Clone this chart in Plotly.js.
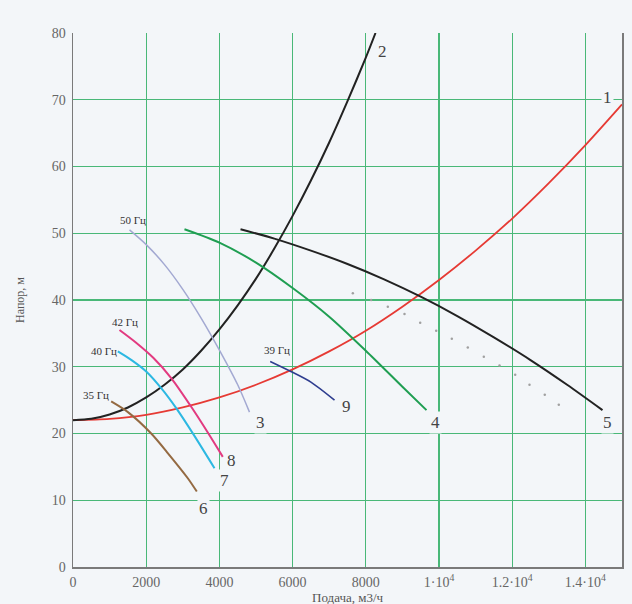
<!DOCTYPE html>
<html>
<head>
<meta charset="utf-8">
<script src="https://cdn.plot.ly/plotly-3.0.1.min.js"></script>
<style>html,body{margin:0;padding:0;background:#f3f6f9;}#chart{width:632px;height:604px;}</style>
</head>
<body>
<div id="chart"></div>
<script>
// Curve 1 (system characteristic, red)
const c1x = [0,1000,2000,3000,4000,5000,6000,7000,8000,9000,10000,11000,12000,13000,14000,15000];
const c1y = [22,22.2,22.8,23.9,25.4,27.3,29.6,32.3,35.4,39.0,43.0,47.4,52.2,57.5,63.2,69.3];
// Curve 2 (black, steep)
const c2x = [0,500,1000,1500,2000,2500,3000,3500,4000,4500,5000,5500,6000,6500,7000,7500,8000,8265];
const c2y = [22,22.2,22.85,23.9,25.4,27.3,29.6,32.4,35.6,39.2,43.2,47.7,52.6,57.9,63.6,69.8,76.3,80];
// Curve 3 (50 Hz, lavender)
const c3x = [1544,2000,2500,3000,3500,4000,4500,4822];
const c3y = [50.5,48.3,45.3,41.6,37.3,32.5,27.3,23.2];
// Curve 4 (green)
const c4x = [3046,4000,5000,6000,7000,8000,9000,9658];
const c4y = [50.6,48.6,45.6,41.8,37.5,32.4,27.0,23.5];
// Curve 5 (black, wide)
const c5x = [4577,5500,6500,7500,8500,9500,10500,11500,12500,13500,14467];
const c5y = [50.6,49.2,47.4,45.4,43.1,40.5,37.6,34.4,31.0,27.3,23.5];
// Dotted curve (gray)
const cdx = [7646,8146,8601,9057,9486,9923,10350,10787,11224,11653,12082,12473,12890,13273];
const cdy = [41.0,40.0,39.0,37.9,36.6,35.4,34.2,32.9,31.5,30.2,28.8,27.3,25.8,24.3];
// Curve 6 (35 Hz, brown)
const c6x = [1043,1500,2137,2600,3137,3383];
const c6y = [24.8,23.2,20.0,17.0,13.3,11.3];
// Curve 7 (40 Hz, cyan)
const c7x = [1224,1600,2000,2410,2820,3300,3866];
const c7y = [32.3,31.0,29.3,26.8,23.8,19.8,14.8];
// Curve 8 (42 Hz, pink)
const c8x = [1270,1700,2200,2683,3230,3700,4093];
const c8y = [35.5,33.7,31.3,28.3,24.0,20.0,16.5];
// Curve 9 (39 Hz, navy)
const c9x = [5388,5915,6500,7145];
const c9y = [30.8,29.4,27.7,25.0];

// Curve number labels
const numText = ['1','2','3','4','5','6','7','8','9'];
const numX = [14600,8450,5120,9905,14600,3566,4145,4330,7473];
const numY = [70.4,77.2,21.7,21.7,21.7,8.8,13.0,16.0,24.0];
// Frequency labels
const hzText = ['50 Гц','42 Гц','40 Гц','35 Гц','39 Гц'];
const hzX = [1626,1434,836,634,5587];
const hzY = [52.0,36.7,32.4,25.8,32.5];

const xTitle = 'Подача, м3/ч';
const yTitle = 'Напор, м';
const xTickVals = [0,2000,4000,6000,8000,10000,12000,14000];
const xTickText = ['0','2000','4000','6000','8000','1·10<sup>4</sup>','1.2·10<sup>4</sup>','1.4·10<sup>4</sup>'];
const yTickVals = [0,10,20,30,40,50,60,70,80];

function line(x,y,color,width){
  return {x:x,y:y,type:'scatter',mode:'lines',line:{color:color,width:width,shape:'spline',smoothing:0.8},hoverinfo:'skip'};
}
const traces = [
  line(c1x,c1y,'#e63a34',1.8),
  line(c2x,c2y,'#222222',2),
  line(c3x,c3y,'#a3a9d2',1.5),
  line(c4x,c4y,'#1f9e52',2),
  line(c5x,c5y,'#222222',2),
  line(c6x,c6y,'#946a42',2),
  line(c7x,c7y,'#2cb8e2',2),
  line(c8x,c8y,'#e23a80',2),
  line(c9x,c9y,'#2e3d8f',1.6),
  {x:cdx,y:cdy,type:'scatter',mode:'markers',marker:{color:'#a0a0a0',size:2.5},hoverinfo:'skip'}
];

const serif = 'Liberation Serif';
const annotations = [];
for(let i=0;i<numText.length;i++){
  annotations.push({x:numX[i],y:numY[i],text:numText[i],showarrow:false,
    font:{family:serif,size:17,color:'#444'},bgcolor:'#f3f6f9',borderpad:1});
}
for(let i=0;i<hzText.length;i++){
  annotations.push({x:hzX[i],y:hzY[i],text:hzText[i],showarrow:false,
    font:{family:serif,size:11,color:'#333'}});
}
annotations.push({xref:'paper',yref:'paper',x:0.5,y:0,yanchor:'top',yshift:-21,text:xTitle,showarrow:false,
  font:{family:serif,size:13,color:'#555'}});

const layout = {
  width:632,height:604,
  margin:{l:73,r:10,t:33,b:37},
  paper_bgcolor:'#f3f6f9',plot_bgcolor:'#f3f6f9',
  showlegend:false,
  xaxis:{range:[0,15000],tickvals:xTickVals,ticktext:xTickText,showgrid:true,gridcolor:'#49b878',gridwidth:1.3,
    zeroline:false,showline:true,linecolor:'#7a7a7a',linewidth:1.5,ticks:'',ticklabelstandoff:2,
    tickfont:{family:serif,size:14,color:'#666'}},
  yaxis:{range:[0,80],tickvals:yTickVals,showgrid:true,gridcolor:'#49b878',gridwidth:1.3,
    zeroline:false,showline:true,mirror:true,linecolor:'#7a7a7a',linewidth:1.5,ticks:'',ticklabelstandoff:3,
    tickfont:{family:serif,size:14,color:'#666'},
    title:{text:yTitle,font:{family:serif,size:12,color:'#555'},standoff:24}},
  annotations:annotations
};
Plotly.newPlot('chart',traces,layout,{staticPlot:true});
</script>
</body>
</html>
